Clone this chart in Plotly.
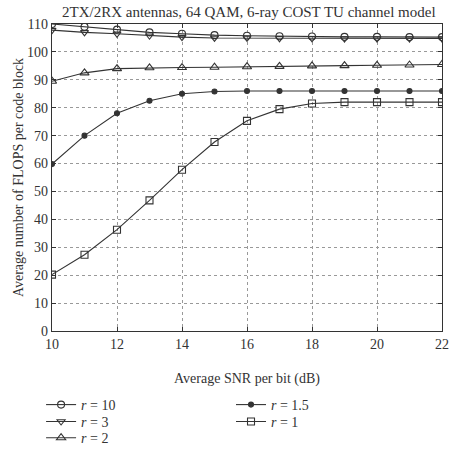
import plotly.graph_objects as go

snr = [10, 11, 12, 13, 14, 15, 16, 17, 18, 19, 20, 21, 22]
r10 = [110, 109, 108, 107, 106.5, 106, 105.8, 105.6, 105.5, 105.4, 105.4, 105.3, 105.3]
r3 = [107.8, 107, 106.5, 105.8, 105.3, 105, 105, 104.9, 104.9, 104.8, 104.8, 104.8, 104.8]
r2 = [89.5, 92.5, 94, 94.3, 94.4, 94.5, 94.7, 94.8, 95, 95.1, 95.2, 95.3, 95.5]
r15 = [59.8, 70, 78, 82.5, 85, 85.8, 86, 86, 86, 86, 86, 86, 86]
r1 = [20.2, 27.3, 36.3, 46.8, 57.8, 67.7, 75.3, 79.5, 81.5, 82, 82, 82, 82]

series = [
    ("<i>r</i> = 10", r10, "circle-open", 7, "legend"),
    ("<i>r</i> = 3", r3, "triangle-down-open", 7, "legend2"),
    ("<i>r</i> = 2", r2, "triangle-up-open", 8, "legend3"),
    ("<i>r</i> = 1.5", r15, "circle", 5, "legend4"),
    ("<i>r</i> = 1", r1, "square-open", 7, "legend5"),
]

FONT = "Liberation Serif"
fig = go.Figure()
for name, ys, sym, sz, leg in series:
    fig.add_trace(go.Scatter(
        x=snr, y=ys, name=name, mode="lines+markers",
        line=dict(color="#333333", width=1.1),
        marker=dict(symbol=sym, size=sz, color="#333333",
                    line=dict(color="#333333", width=1.1)),
        legend=leg,
    ))

axis_common = dict(
    showline=True, linecolor="#333333", linewidth=1.2, mirror="ticks",
    ticks="inside", ticklen=4, tickcolor="#333333",
    showgrid=True, gridcolor="#999999", griddash="dot", gridwidth=1,
    zeroline=False, automargin=False,
    tickfont=dict(family=FONT, size=14, color="#333333"),
)

def leg(x, y):
    return dict(x=x, y=y, xanchor="left", yanchor="middle", orientation="v",
                font=dict(family=FONT, size=14, color="#333333"), itemwidth=30,
                tracegroupgap=0, bgcolor="rgba(0,0,0,0)")

fig.update_layout(
    width=451, height=450,
    margin=dict(l=52, r=9, t=24, b=119, autoexpand=False),
    paper_bgcolor="white", plot_bgcolor="white",
    font=dict(family=FONT, color="#333333"),
    xaxis=dict(range=[10, 22], tickvals=[10, 12, 14, 16, 18, 20, 22],
               title=dict(text="Average SNR per bit (dB)", font=dict(family=FONT, size=14), standoff=22),
               **axis_common),
    yaxis=dict(range=[0, 110], tickvals=list(range(0, 111, 10)),
               title=dict(text="Average number of FLOPS per code block", font=dict(family=FONT, size=14), standoff=0),
               **axis_common),
    legend=leg(-0.028, -0.241),
    legend2=leg(-0.028, -0.296),
    legend3=leg(-0.028, -0.349),
    legend4=leg(0.459, -0.241),
    legend5=leg(0.459, -0.296),
    annotations=[dict(text="2TX/2RX antennas, 64 QAM, 6-ray COST TU channel model",
                      xref="paper", yref="paper", x=0.505, y=1, yshift=2,
                      xanchor="center", yanchor="bottom", showarrow=False,
                      font=dict(family=FONT, size=15, color="#333333"))],
    showlegend=True,
)

fig.write_html("out.html")
